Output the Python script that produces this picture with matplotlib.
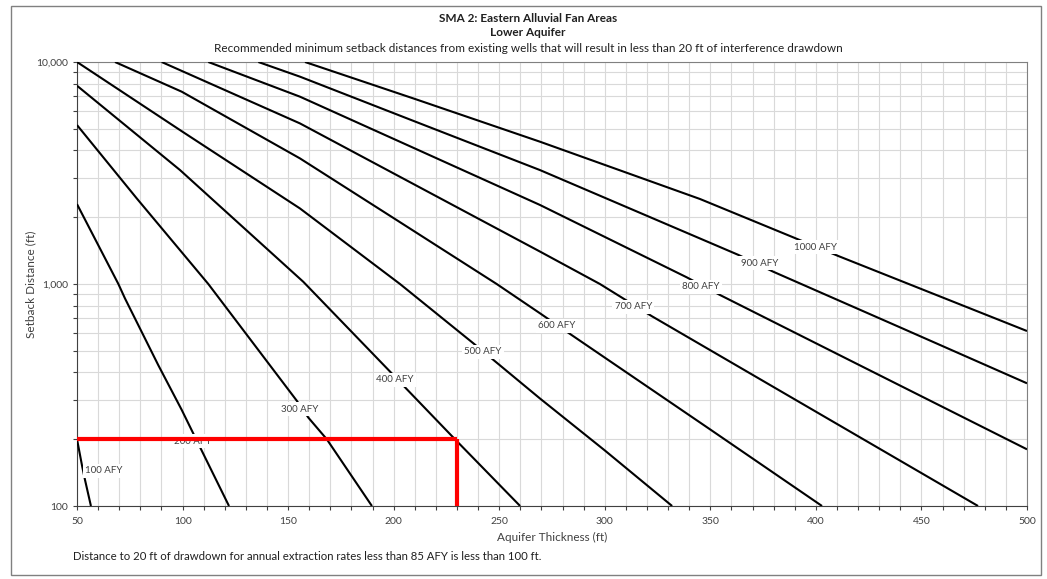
import numpy as np
import matplotlib
matplotlib.use('Agg')
import matplotlib.pyplot as plt
from matplotlib.ticker import FixedLocator, FuncFormatter, MultipleLocator, NullFormatter, LogLocator
from matplotlib.patches import Rectangle

plt.rcParams['font.family'] = ['Lato', 'DejaVu Sans']

# 各抽水量对应的退距曲线
rates = [100, 200, 300, 400, 500, 600, 700, 800, 900, 1000]

thick_100 = [50, 52.5, 53.8, 56.6]
dist_100 = [200, 150, 131, 100]

thick_200 = [50, 69.6, 72.7, 88.5, 99.6, 105.1, 122.0]
dist_200 = [2290, 1000, 862, 431, 271, 212, 100]

thick_300 = [50, 78.3, 112.2, 154.1, 159.6, 168.3, 189.7]
dist_300 = [5200, 2430, 1000, 298, 250, 200, 100]

thick_400 = [50, 98.8, 157.2, 198.3, 206.2, 229.0, 259.9]
dist_400 = [7820, 3260, 1023, 403, 336, 200, 100]

thick_500 = [50, 100, 155.6, 203, 237.7, 269.3, 300, 331.9]
dist_500 = [10000, 4850, 2190, 1000, 541, 305, 178, 100]

thick_600 = [68, 99.6, 155.6, 200, 248.8, 269.3, 284.3, 350, 402.9]
dist_600 = [10000, 7350, 3680, 1980, 1000, 738, 589, 221, 100]

thick_700 = [90.1, 155.6, 210, 269.3, 297.7, 322.2, 400, 476.8]
dist_700 = [10000, 5290, 2800, 1400, 1000, 717, 266, 100]

thick_800 = [112.2, 155.6, 210, 269.3, 338.8, 354.6, 420, 500]
dist_800 = [10000, 6980, 4080, 2270, 1072, 892, 434, 180]

thick_900 = [135.9, 155.6, 210, 269.3, 363.3, 379.8, 440, 500]
dist_900 = [10000, 8590, 5400, 3260, 1352, 1136, 637, 357]

thick_1000 = [158, 210, 269.3, 345.1, 389.3, 410.6, 500]
dist_1000 = [10000, 6820, 4375, 2415, 1622, 1337, 614]

# 示例: 230 ft 含水层厚度 -> 200 ft 退距
example_thickness = 230
example_setback = 200

curves = [
    (thick_100, dist_100), (thick_200, dist_200), (thick_300, dist_300),
    (thick_400, dist_400), (thick_500, dist_500), (thick_600, dist_600),
    (thick_700, dist_700), (thick_800, dist_800), (thick_900, dist_900),
    (thick_1000, dist_1000),
]

# 标签位置 (数据坐标)
label_x = [62.8, 104.9, 155.6, 200.6, 242.3, 277.4, 313.5, 345.6, 373.2, 399.9]
label_y = [144, 196, 273, 370, 494, 647, 790, 972, 1240, 1463]

W, H = 1047, 579
fig = plt.figure(figsize=(W / 100, H / 100), dpi=100)
ax = fig.add_axes([77 / W, 1 - 506 / H, 950 / W, 444 / H])

for xs, ys in curves:
    ax.plot(xs, ys, color='black', linewidth=1.5, zorder=3, solid_capstyle='butt')

for r, lx, ly in zip(rates, label_x, label_y):
    ax.text(lx, ly, f'{r} AFY', ha='center', va='center', fontsize=7,
            color='#404040', zorder=4,
            bbox=dict(boxstyle='square,pad=0.25', facecolor='white', edgecolor='none'))

# 红色示例线
ax.plot([50, example_thickness], [example_setback, example_setback],
        color='#FF0000', linewidth=3, zorder=5, solid_capstyle='butt')
ax.plot([example_thickness, example_thickness], [100, example_setback],
        color='#FF0000', linewidth=3, zorder=5, solid_capstyle='butt')

ax.set_yscale('log')
ax.set_xlim(50, 500)
ax.set_ylim(100, 10000)

ax.xaxis.set_major_locator(MultipleLocator(50))
ax.xaxis.set_minor_locator(MultipleLocator(10))
ax.yaxis.set_major_locator(FixedLocator([100, 1000, 10000]))
ax.yaxis.set_major_formatter(FuncFormatter(lambda v, p: f'{int(v):,}'))
ax.yaxis.set_minor_locator(LogLocator(base=10, subs=np.arange(2, 10)))
ax.yaxis.set_minor_formatter(NullFormatter())

ax.grid(True, which='both', color='#d9d9d9', linewidth=0.8, zorder=0)
ax.set_axisbelow(True)

ax.tick_params(which='both', direction='out', length=3, width=0.8, colors='#404040',
               labelsize=7.5, labelcolor='#404040')
ax.tick_params(axis='x', pad=5)

for side in ['left', 'bottom']:
    ax.spines[side].set_color('#404040')
for side in ['top', 'right']:
    ax.spines[side].set_color('#808080')

ax.set_xlabel('Aquifer Thickness (ft)', fontsize=8.5, color='#404040')
ax.xaxis.set_label_coords(0.5, -0.058)
ax.set_ylabel('Setback Distance (ft)', fontsize=8.5, color='#404040')
ax.yaxis.set_label_coords(-0.043, 0.5)

cx = 528 / W
fig.text(cx, 1 - 18 / H, 'SMA 2: Eastern Alluvial Fan Areas', ha='center', va='center',
         fontsize=8.5, fontweight='bold', color='#202020')
fig.text(cx, 1 - 33 / H, 'Lower Aquifer', ha='center', va='center',
         fontsize=8.5, fontweight='bold', color='#202020')
fig.text(cx, 1 - 48 / H,
         'Recommended minimum setback distances from existing wells that will result in less than 20 ft of interference drawdown',
         ha='center', va='center', fontsize=8.5, color='#202020')
fig.text(73 / W, 1 - 557 / H,
         'Distance to 20 ft of drawdown for annual extraction rates less than 85 AFY is less than 100 ft.',
         ha='left', va='center', fontsize=8.2, color='#202020')

# 图表外框
fig.patches.append(Rectangle((11 / W, 1 - 575 / H), 1030 / W, 569 / H,
                             transform=fig.transFigure, fill=False,
                             edgecolor='#808080', linewidth=1))

fig.savefig('out.png', dpi=100, facecolor='white')
